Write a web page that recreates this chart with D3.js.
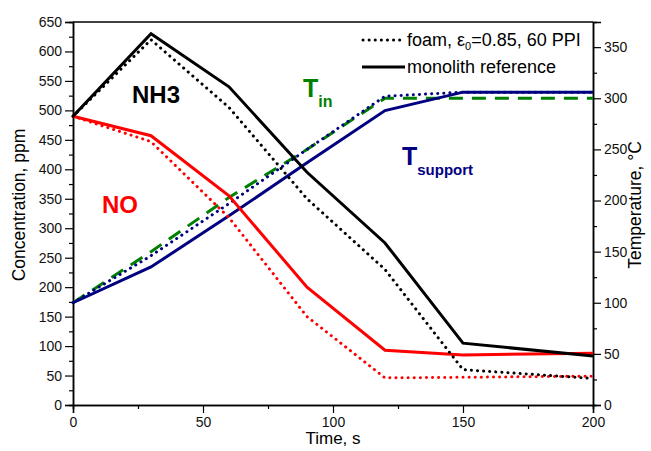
<!DOCTYPE html>
<html>
<head>
<meta charset="utf-8">
<script src="https://cdn.jsdelivr.net/npm/d3@7"></script>
<style>
  body { margin: 0; background: #fff; }
  svg { font-family: "Liberation Sans", Arial, sans-serif; }
</style>
</head>
<body>
<div id="chart"></div>
<script>
// Data
const time = [0, 30, 60, 90, 120, 150, 200];
const nh3Mono = [490, 630, 540, 395, 275, 105, 83];
const nh3Foam = [490, 620, 505, 350, 230, 60, 45];
const noMono = [490, 457, 355, 200, 93, 85, 88];
const noFoam = [490, 447, 318, 150, 46, 47, 49];
const tSupMono = [100, 135, 185, 237, 288, 306, 306];
const tSupFoam = [100, 146, 197, 250, 302, 306, 306];
const tIn = [100, 150, 203, 250, 300, 300, 300];

const xTicks = [0, 50, 100, 150, 200];
const yTicks = d3.range(0, 651, 50);
const y2Ticks = d3.range(0, 351, 50);

const width = 651, height = 451;
const margin = {top: 22, right: 58, bottom: 46, left: 73};

const svg = d3.select('#chart')
    .append('svg')
    .attr('width', width)
    .attr('height', height);

const x = d3.scaleLinear().domain([0, 200]).range([margin.left, width - margin.right]);
const y = d3.scaleLinear().domain([0, 650]).range([height - margin.bottom, margin.top]);
const y2 = d3.scaleLinear().domain([0, 374.6]).range([height - margin.bottom, margin.top]);

// minor ticks
const minor = (axis, vals) => axis.tickValues(vals).tickSize(4).tickFormat('');

svg.append('g')
    .attr('transform', `translate(0,${height - margin.bottom})`)
    .call(minor(d3.axisBottom(x), d3.range(25, 200, 50)));
svg.append('g')
    .attr('transform', `translate(${margin.left},0)`)
    .call(minor(d3.axisLeft(y), d3.range(25, 650, 50)));
svg.append('g')
    .attr('transform', `translate(${width - margin.right},0)`)
    .call(minor(d3.axisRight(y2), d3.range(25, 375, 50)));

svg.append('g')
    .attr('transform', `translate(0,${height - margin.bottom})`)
    .call(d3.axisBottom(x).tickValues(xTicks).tickSize(8).tickPadding(4));
svg.append('g')
    .attr('transform', `translate(${margin.left},0)`)
    .call(d3.axisLeft(y).tickValues(yTicks).tickSize(8).tickPadding(3));
svg.append('g')
    .attr('transform', `translate(${width - margin.right},0)`)
    .call(d3.axisRight(y2).tickValues(y2Ticks).tickSize(8).tickPadding(3));

svg.selectAll('.domain').attr('stroke', '#000').attr('stroke-width', 1.5);
svg.selectAll('.tick line').attr('stroke', '#000').attr('stroke-width', 1.2);
svg.selectAll('.tick text').attr('font-size', 14).attr('fill', '#111');

// top frame
svg.append('line')
    .attr('x1', margin.left).attr('x2', width - margin.right)
    .attr('y1', margin.top).attr('y2', margin.top)
    .attr('stroke', '#000').attr('stroke-width', 1.5);

// Series
const series = [
  {vals: tIn, scale: y2, color: '#008000', dash: '14 9', cap: 'butt'},
  {vals: tSupFoam, scale: y2, color: '#000080', dash: '0.1 6', cap: 'round'},
  {vals: tSupMono, scale: y2, color: '#000080', dash: null, cap: 'butt'},
  {vals: noFoam, scale: y, color: '#ff0000', dash: '0.1 6', cap: 'round'},
  {vals: noMono, scale: y, color: '#ff0000', dash: null, cap: 'butt'},
  {vals: nh3Foam, scale: y, color: '#000', dash: '0.1 6', cap: 'round'},
  {vals: nh3Mono, scale: y, color: '#000', dash: null, cap: 'butt'}
];

series.forEach(s => {
  const line = d3.line().x((d, i) => x(time[i])).y(d => s.scale(d));
  svg.append('path')
      .datum(s.vals)
      .attr('d', line)
      .attr('fill', 'none')
      .attr('stroke', s.color)
      .attr('stroke-width', 3)
      .attr('stroke-linecap', s.cap)
      .attr('stroke-linejoin', 'miter')
      .attr('stroke-dasharray', s.dash);
});

// Legend
const leg = svg.append('g').attr('font-size', 18).attr('fill', '#000');
leg.append('line').attr('x1', 363).attr('x2', 405).attr('y1', 40).attr('y2', 40)
    .attr('stroke', '#000').attr('stroke-width', 3).attr('stroke-linecap', 'round')
    .attr('stroke-dasharray', '0.1 6');
const t1 = leg.append('text').attr('x', 407).attr('y', 46);
t1.append('tspan').text('foam, ε');
t1.append('tspan').attr('font-size', 11).attr('dy', 4).text('0');
t1.append('tspan').attr('dy', -4).text('=0.85, 60 PPI');
leg.append('line').attr('x1', 362).attr('x2', 405).attr('y1', 67).attr('y2', 67)
    .attr('stroke', '#000').attr('stroke-width', 3);
leg.append('text').attr('x', 407).attr('y', 73).text('monolith reference');

// Annotations
svg.append('text').attr('x', 132).attr('y', 103).attr('font-size', 24)
    .attr('font-weight', 'bold').attr('fill', '#000').text('NH3');
svg.append('text').attr('x', 102).attr('y', 213).attr('font-size', 24)
    .attr('font-weight', 'bold').attr('fill', '#ff0000').text('NO');
const tin = svg.append('text').attr('x', 303).attr('y', 97).attr('font-size', 25)
    .attr('font-weight', 'bold').attr('fill', '#008000');
tin.append('tspan').text('T');
tin.append('tspan').attr('font-size', 16).attr('dy', 10).text('in');
const tsup = svg.append('text').attr('x', 402).attr('y', 165).attr('font-size', 25)
    .attr('font-weight', 'bold').attr('fill', '#000080');
tsup.append('tspan').text('T');
tsup.append('tspan').attr('font-size', 15).attr('dy', 10).text('support');

// Axis titles
svg.append('text').attr('x', (margin.left + width - margin.right) / 2).attr('y', 444)
    .attr('text-anchor', 'middle').attr('font-size', 17).text('Time, s');
svg.append('text')
    .attr('transform', 'translate(25,205) rotate(-90)')
    .attr('text-anchor', 'middle').attr('font-size', 17.5).text('Concentration, ppm');
svg.append('text')
    .attr('transform', 'translate(641,205) rotate(-90)')
    .attr('text-anchor', 'middle').attr('font-size', 17.5).text('Temperature, °C');
</script>
</body>
</html>
